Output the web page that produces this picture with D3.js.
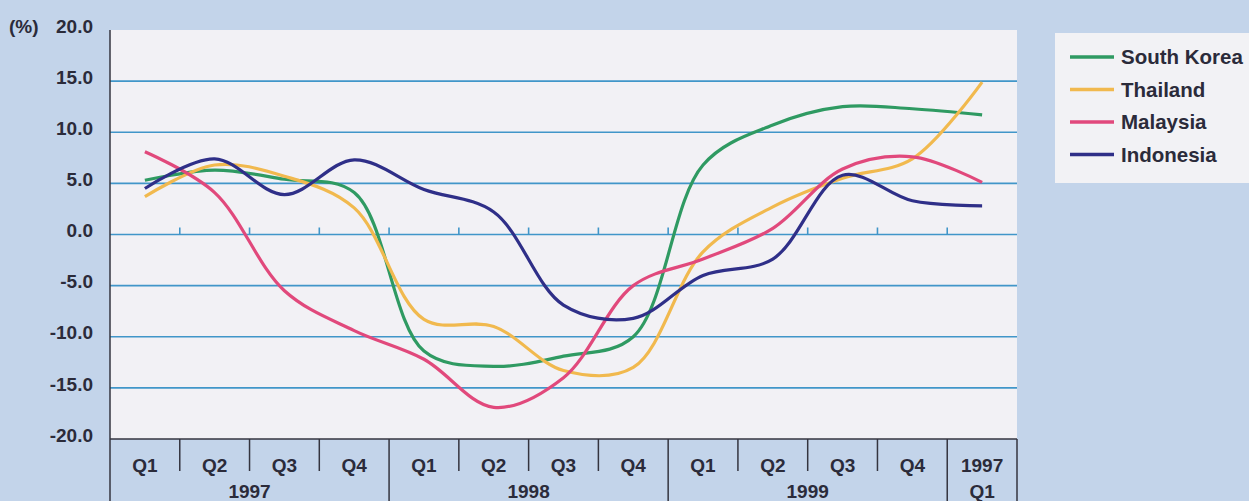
<!DOCTYPE html>
<html>
<head>
<meta charset="utf-8">
<script src="https://cdn.jsdelivr.net/npm/d3@7"></script>
<style>
  body { margin: 0; padding: 0; background: #c3d4ea; }
  svg { display: block; }
  text { font-family: "Liberation Sans", Arial, sans-serif; font-weight: bold; fill: #2b2b3a; }
</style>
</head>
<body>
<script>
// quarters along the bottom, 1997 Q1 .. 1999 Q4 + 1997 Q1 (as printed)
var quarters = ["Q1","Q2","Q3","Q4","Q1","Q2","Q3","Q4","Q1","Q2","Q3","Q4","1997"];
var years = [
    {label: "1997", from: 0, to: 4},
    {label: "1998", from: 4, to: 8},
    {label: "1999", from: 8, to: 12},
    {label: "Q1", from: 12, to: 13}
];
var yTicks = [20, 15, 10, 5, 0, -5, -10, -15, -20];

var southKorea = [5.3, 6.3, 5.4, 4.1, -11.4, -12.9, -11.9, -10.0, 6.8, 10.7, 12.5, 12.3, 11.7];
var thailand   = [3.7, 6.8, 5.7, 2.6, -8.3, -9.0, -13.3, -13.0, -1.7, 2.7, 5.5, 7.4, 14.9];
var malaysia   = [8.1, 4.1, -5.5, -9.4, -12.2, -16.9, -14.0, -5.0, -2.4, 0.6, 6.4, 7.6, 5.1];
var indonesia  = [4.5, 7.4, 3.9, 7.3, 4.4, 2.2, -6.9, -8.2, -4.0, -2.4, 5.8, 3.3, 2.8];

var series = [
    {name: "South Korea", values: southKorea, color: "#2f9a62"},
    {name: "Thailand", values: thailand, color: "#f1b94e"},
    {name: "Malaysia", values: malaysia, color: "#e1497c"},
    {name: "Indonesia", values: indonesia, color: "#2f2f88"}
];

var width = 1249, height = 501;
var plotL = 110, plotR = 1017, plotT = 30, plotB = 439;

var svg = d3.select("body").append("svg")
    .attr("width", width)
    .attr("height", height);

var x = d3.scaleLinear().domain([0, quarters.length]).range([plotL, plotR]);
var y = d3.scaleLinear().domain([-20, 20]).range([plotB, plotT]);
var fmt = d3.format(".1f");

// plot background
svg.append("rect")
    .attr("x", plotL).attr("y", plotT)
    .attr("width", plotR - plotL).attr("height", plotB - plotT)
    .attr("fill", "#f2f1f5");

// grid lines
svg.selectAll("line.grid")
    .data(yTicks.filter(function(d){ return d > -20 && d < 20; }))
    .enter().append("line")
    .attr("class", "grid")
    .attr("x1", plotL).attr("x2", plotR)
    .attr("y1", function(d){ return y(d); })
    .attr("y2", function(d){ return y(d); })
    .style("stroke", "#4196c9")
    .style("stroke-width", 1.6);

// small ticks on the zero line
svg.selectAll("line.zt")
    .data(d3.range(1, quarters.length))
    .enter().append("line")
    .attr("class", "zt")
    .attr("x1", function(d){ return x(d); })
    .attr("x2", function(d){ return x(d); })
    .attr("y1", y(0)).attr("y2", y(0) - 7)
    .style("stroke", "#4196c9")
    .style("stroke-width", 1.6);

// y labels (plain hyphen for negatives, as printed)
svg.selectAll("text.yl")
    .data(yTicks)
    .enter().append("text")
    .attr("class", "yl")
    .attr("x", 93)
    .attr("y", function(d){ return y(d) - 4; })
    .attr("dy", "0.35em")
    .attr("text-anchor", "end")
    .attr("font-size", 19)
    .text(function(d){ return fmt(d).replace("\u2212", "-"); });

svg.append("text")
    .attr("x", 9).attr("y", y(20) - 4).attr("dy", "0.35em")
    .attr("font-size", 19)
    .text("(%)");

// lines
var line = d3.line()
    .x(function(d, i){ return x(i + 0.5); })
    .y(function(d){ return y(d); })
    .curve(d3.curveCatmullRom.alpha(0.5));

svg.selectAll("path.series")
    .data(series)
    .enter().append("path")
    .attr("class", "series")
    .attr("d", function(d){ return line(d.values); })
    .attr("fill", "none")
    .attr("stroke", function(d){ return d.color; })
    .attr("stroke-width", 3.2)
    .attr("stroke-linejoin", "round");

// axes frame
var axisColor = "#34343f";
svg.append("line")
    .attr("x1", plotL).attr("x2", plotL).attr("y1", plotT).attr("y2", height)
    .style("stroke", axisColor).style("stroke-width", 1.5);
svg.append("line")
    .attr("x1", plotL).attr("x2", plotR).attr("y1", plotB).attr("y2", plotB)
    .style("stroke", axisColor).style("stroke-width", 1.5);
svg.append("line")
    .attr("x1", plotR).attr("x2", plotR).attr("y1", plotB).attr("y2", height)
    .style("stroke", axisColor).style("stroke-width", 1.5);

// quarter dividers (short) and year dividers (full)
var yearEdges = years.map(function(d){ return d.from; }).filter(function(d){ return d > 0; });
svg.selectAll("line.div")
    .data(d3.range(1, quarters.length))
    .enter().append("line")
    .attr("class", "div")
    .attr("x1", function(d){ return x(d); })
    .attr("x2", function(d){ return x(d); })
    .attr("y1", plotB)
    .attr("y2", function(d){ return yearEdges.indexOf(d) >= 0 ? height : plotB + 32; })
    .style("stroke", axisColor).style("stroke-width", 1.5);

svg.selectAll("text.q")
    .data(quarters)
    .enter().append("text")
    .attr("class", "q")
    .attr("x", function(d, i){ return x(i + 0.5); })
    .attr("y", 465).attr("dy", "0.35em")
    .attr("text-anchor", "middle")
    .attr("font-size", 19)
    .text(function(d){ return d; });

svg.selectAll("text.yr")
    .data(years)
    .enter().append("text")
    .attr("class", "yr")
    .attr("x", function(d){ return x((d.from + d.to) / 2); })
    .attr("y", 491).attr("dy", "0.35em")
    .attr("text-anchor", "middle")
    .attr("font-size", 19)
    .text(function(d){ return d.label; });

// legend
var legend = svg.append("g");
legend.append("rect")
    .attr("x", 1055).attr("y", 33)
    .attr("width", 200).attr("height", 150)
    .attr("fill", "#f2f2f5");
var items = legend.selectAll("g.item")
    .data(series)
    .enter().append("g")
    .attr("class", "item")
    .attr("transform", function(d, i){ return "translate(0," + (57 + i * 32.5) + ")"; });
items.append("line")
    .attr("x1", 1070).attr("x2", 1114)
    .attr("y1", 0).attr("y2", 0)
    .style("stroke", function(d){ return d.color; })
    .style("stroke-width", 3.5);
items.append("text")
    .attr("x", 1121).attr("y", 0).attr("dy", "0.35em")
    .attr("font-size", 20.5)
    .text(function(d){ return d.name; });
</script>
</body>
</html>
